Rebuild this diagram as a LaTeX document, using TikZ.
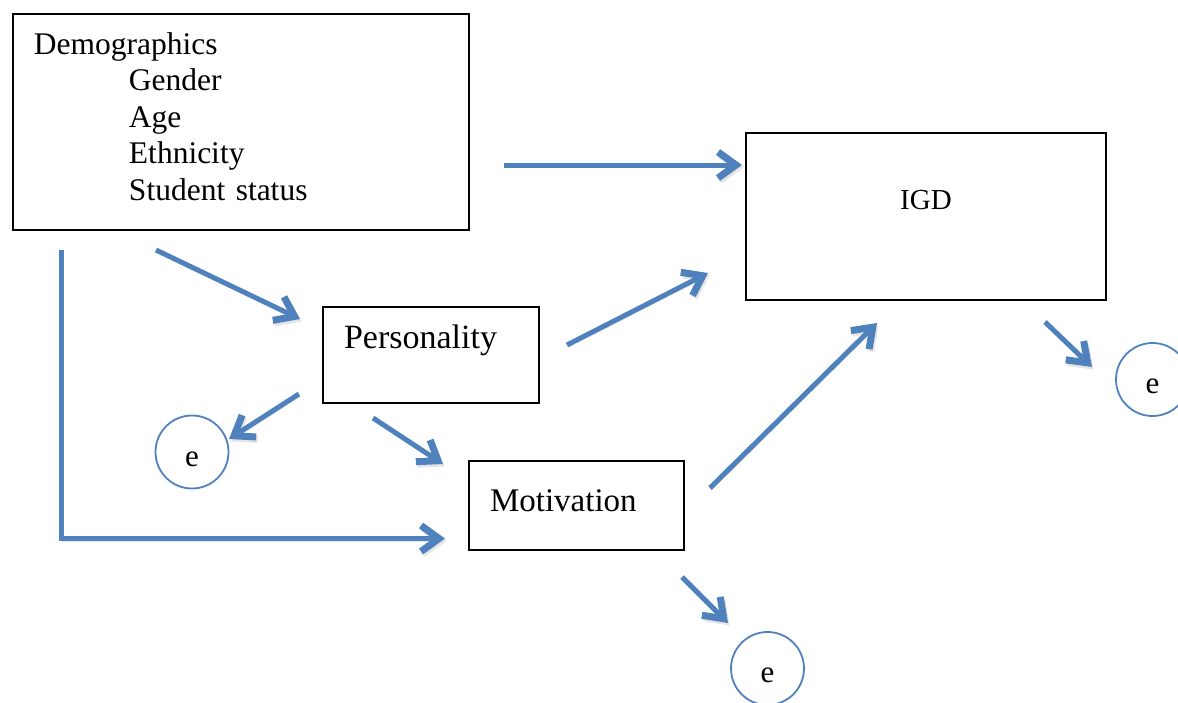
\documentclass[tikz,border=0pt]{standalone}
\usepackage{fontspec}
\setmainfont{Liberation Serif}
\usetikzlibrary{arrows.meta}
\definecolor{pathblue}{HTML}{4F81BD}

\begin{document}
\begin{tikzpicture}[
	x=1pt,y=-1pt,
	box/.style={draw,rectangle,line width=2pt,anchor=north west,inner ysep=0pt,align=left},
	err/.style={draw=pathblue,circle,line width=1.8pt,minimum size=73pt,inner sep=0pt,text height=28pt,text depth=0pt,font=\fontsize{31}{36}\selectfont},
	flow/.style={pathblue,line width=5pt,-{Straight Barb[length=18pt,width=26pt,line width=7pt]},
		preaction={draw=black!10,transform canvas={shift={(1.5pt,-2.5pt)}}}}
	]
	\useasboundingbox (0,0) rectangle (1178,702);
	\clip (0,0) rectangle (1178,702);

	\node[box,inner xsep=21pt,text width=414pt,text height=40pt,text depth=176pt,font=\fontsize{31.5}{36.5}\selectfont] (demo) at (12,13)
		{Demographics\\\hspace*{95pt}Gender\\\hspace*{95pt}Age\\\hspace*{95pt}Ethnicity\\\hspace*{95pt}Student status};
	\node[box,inner xsep=0pt,text width=360pt,align=center,text height=76pt,text depth=91pt,font=\fontsize{29}{34}\selectfont] (igd) at (745,132) {IGD};
	\node[box,inner xsep=21pt,text width=174pt,text height=41pt,text depth=55pt,font=\fontsize{34}{40}\selectfont] (pers) at (322,306) {Personality};
	\node[box,inner xsep=21pt,text width=173pt,text height=50pt,text depth=39pt,font=\fontsize{33}{40}\selectfont] (motiv) at (468,460) {Motivation};

	\node[err] (e1) at (192,452) {e};
	\node[err] (e2) at (1152.5,379.5) {e};
	\node[err] (e3) at (767.5,668.5) {e};

	% Collegamenti
	\draw[flow] ([shift={(34,43)}]demo.east) -- ([shift={(-3,-51.5)}]igd.west);
	\draw[flow] ([shift={(-85,19)}]demo.south) -- ([shift={(-22,-36)}]pers.west);
	\draw[flow] ([shift={(49,19)}]demo.south west) |- ([shift={(-23,33)}]motiv.west);
	\draw[flow] ([shift={(27,-10)}]pers.east) -- ([shift={(-37,56.5)}]igd.west);
	\draw[flow] ([shift={(-23,39)}]pers.west) -- ([shift={(37,-13)}]e1.center);
	\draw[flow] ([shift={(-58,14)}]pers.south) -- ([shift={(-25,-41.5)}]motiv.west);
	\draw[flow] ([shift={(25,-17.5)}]motiv.east) -- ([shift={(-49,22)}]igd.south);
	\draw[flow] ([shift={(119,21)}]igd.south) -- ([shift={(-60.5,-12.5)}]e2.center);
	\draw[flow] ([shift={(105.5,26)}]motiv.south) -- ([shift={(-39.5,-45.5)}]e3.center);

\end{tikzpicture}
\end{document}
